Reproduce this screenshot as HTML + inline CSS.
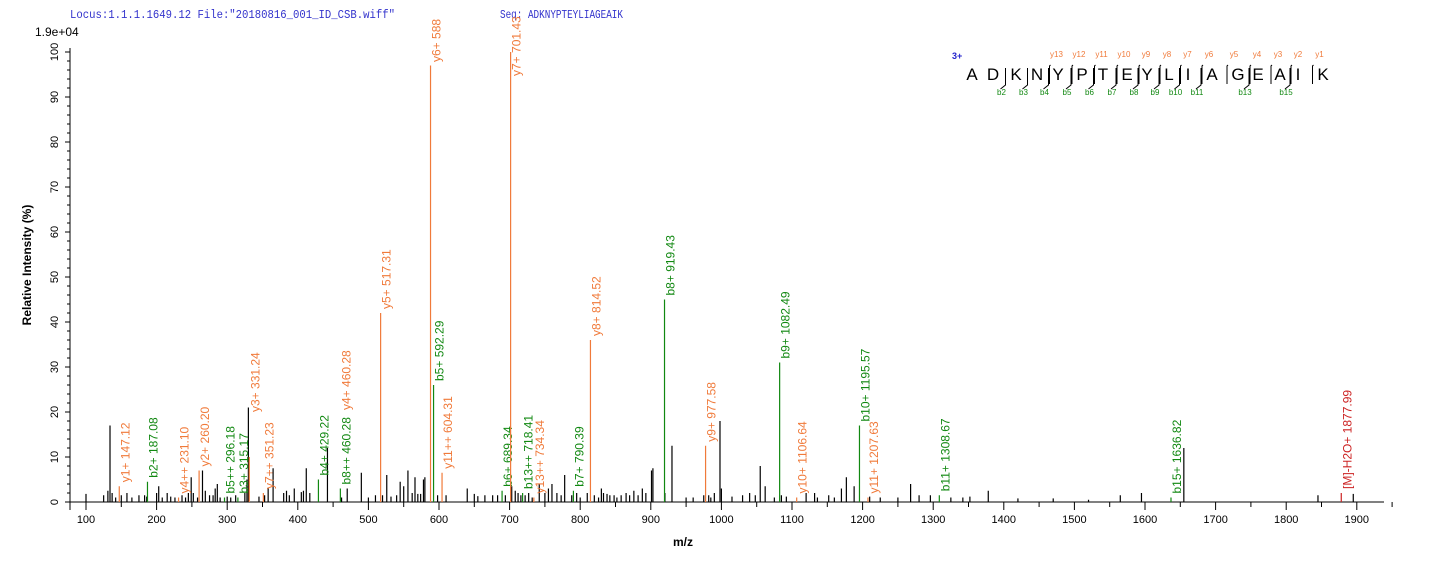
<!DOCTYPE html>
<html><head><meta charset="utf-8"><style>
body{margin:0;background:#fff;}
svg{display:block;font-family:"Liberation Sans",Arial,sans-serif;}
</style></head><body>
<svg id="s" width="1436" height="562" xmlns="http://www.w3.org/2000/svg">
<rect width="1436" height="562" fill="#fff"/>
<text x="70" y="18" font-family="Liberation Mono,monospace" font-size="12" textLength="325" lengthAdjust="spacingAndGlyphs" fill="#3333cc">Locus:1.1.1.1649.12 File:"20180816_001_ID_CSB.wiff"</text>
<text x="500" y="18" font-family="Liberation Mono,monospace" font-size="12" textLength="123" lengthAdjust="spacingAndGlyphs" fill="#3333cc">Seq: ADKNYPTEYLIAGEAIK</text>
<text x="35" y="36" font-size="12">1.9e+04</text>
<text transform="translate(31,265) rotate(-90)" font-size="12" font-weight="bold" text-anchor="middle">Relative   Intensity (%)</text>
<text x="683" y="546" font-size="12" font-weight="bold" text-anchor="middle">m/z</text>
<g id="ax" stroke="#000" stroke-width="1"></g>
<g id="pk"></g>
<g id="seq" font-size="17"></g>
</svg>
<script>
var NS="http://www.w3.org/2000/svg",s=document.getElementById('s');
function el(t,a,p,txt){var e=document.createElementNS(NS,t);for(var k in a)e.setAttribute(k,a[k]);if(txt!==undefined)e.textContent=txt;(p||s).appendChild(e);return e;}
var ax=document.getElementById('ax'),pk=document.getElementById('pk'),sq=document.getElementById('seq');
function X(m){return 86+(m-100)*0.706;}
function Y(h){return 502-h*4.5;}
el('line',{x1:70,y1:502,x2:1384,y2:502},ax);
el('line',{x1:70,y1:48,x2:70,y2:510},ax);
for(var v=0;v<=100;v+=2){var y=Y(v);el('line',{x1:v%10==0?65:67,y1:y,x2:70,y2:y},ax);}
for(var v=0;v<=100;v+=10){el('text',{transform:'translate(58,'+Y(v)+') rotate(-90)','font-size':11,'text-anchor':'middle',stroke:'none'},s,String(v));}
for(var m=100;m<=1950;m+=50){var x=X(m);el('line',{x1:x,y1:502,x2:x,y2:m%100==0?510:507},ax);}
for(var m=100;m<=1900;m+=100){el('text',{x:X(m),y:523,'font-size':11,'text-anchor':'middle'},s,String(m));}
var B=[[100,1.8],[125,1.5],[131,2.5],[134,17],[137,2],[142,1],[150,1.5],[158,2],[165,1],[175,1.5],[183,1.5],[186,1.2],[200,2],[203,3.5],[208,1],[215,2],[220,1.2],[226,1],[236,1.5],[241,1],[245,2],[249,5.5],[252,2],[258,1],[265,7],[269,2.5],[275,1.5],[280,1.5],[283,3],[286,4],[290,1],[300,1.2],[305,1],[312,1.5],[325,2],[328,5],[330,21],[345,1.2],[353,1.5],[358,3],[365,7.5],[380,2],[384,2.5],[388,1.5],[395,3],[405,2.2],[408,2.5],[412,7.5],[417,2],[442,12],[462,1],[470,3],[490,6.5],[500,1],[510,1.5],[520,1.5],[526,6],[532,1.2],[540,1.5],[545,4.5],[550,3.5],[556,7],[562,2],[566,5.5],[570,1.8],[574,1.8],[578,5],[580,5.5],[598,1.5],[610,1.5],[640,3],[650,1.8],[655,1.3],[665,1.5],[676,1.5],[683,1.5],[694,1.5],[703,3.5],[708,2.5],[712,2],[716,1.5],[722,1.5],[727,2],[732,1],[742,4],[750,2],[755,3],[760,4],[767,2],[773,1.5],[778,6],[788,1.5],[795,2],[800,1],[810,2],[820,1.5],[826,1],[830,3],[833,2],[838,1.8],[842,1.5],[848,1.5],[852,1],[858,1.5],[865,2],[870,1.5],[876,2.5],[882,1.5],[888,3],[893,2],[901,7],[903,7.5],[920,2],[930,12.5],[950,1],[960,1],[975,1.5],[982,1.5],[985,1],[990,2],[998,18],[1000,3],[1015,1.2],[1030,1.5],[1040,2],[1048,1.5],[1055,8],[1062,3.5],[1075,1],[1085,1.5],[1092,1.2],[1120,2],[1132,2],[1136,1],[1152,1.5],[1160,1],[1170,3],[1177,5.5],[1188,3.5],[1210,1.2],[1225,1],[1250,1],[1268,4],[1280,1.5],[1296,1.5],[1325,1],[1342,1],[1378,2.5],[1352,1.2],[1420,0.8],[1470,0.8],[1520,0.5],[1565,1.5],[1595,2],[1655,12],[1845,1.5],[1895,1.8]];
B.forEach(function(p){var x=X(p[0]);el('line',{x1:x,y1:502,x2:x,y2:Y(p[1]),stroke:'#000','stroke-width':1.2},pk);});
var O='#f07a3a',G='#118811',R='#cc2222';
var L=[[147.12,3.5,O,'y1+ 147.12'],[187.08,4.5,G,'b2+ 187.08'],[231.10,1,O,'y4++ 231.10'],[260.20,7,O,'y2+ 260.20'],[296.18,1,G,'b5++ 296.18'],[315.17,1,G,'b3+ 315.17'],[331.24,10,O,'y3+ 331.24',412],[351.23,2,O,'y7++ 351.23'],[429.22,5,G,'b4+ 429.22'],[460.28,3,G,'b8++ 460.28'],[460.5,0,O,'y4+ 460.28',410],[517.31,42,O,'y5+ 517.31'],[588,97,O,'y6+ 588',62],[592.29,26,G,'b5+ 592.29'],[604.31,6.5,O,'y11++ 604.31'],[689.34,2.5,G,'b6+ 689.34'],[701.43,100,O,'y7+ 701.43',76],[718.41,2,G,'b13++ 718.41'],[734.34,1,O,'y13++ 734.34'],[790.39,2.5,G,'b7+ 790.39'],[814.52,36,O,'y8+ 814.52'],[919.43,45,G,'b8+ 919.43'],[977.58,12.5,O,'y9+ 977.58'],[1082.49,31,G,'b9+ 1082.49'],[1106.64,1,O,'y10+ 1106.64'],[1195.57,17,G,'b10+ 1195.57'],[1207.63,1,O,'y11+ 1207.63'],[1308.67,1.5,G,'b11+ 1308.67'],[1636.82,1,G,'b15+ 1636.82'],[1877.99,2,R,'[M]-H2O+ 1877.99']];
L.forEach(function(p){var x=X(p[0]);if(p[1]>0)el('line',{x1:x,y1:502,x2:x,y2:Y(p[1]),stroke:p[2],'stroke-width':1.2},pk);var b=p[4]||(Y(p[1])-4);el('text',{transform:'translate('+(x+10)+','+b+') rotate(-90)','font-size':12,fill:p[2]},pk,p[3]);});
var letters='ADKNYPTEYLIAGEAIK'.split(''),lx=[972,993,1016,1037,1058,1082,1103,1127,1147,1169,1188,1212,1238,1258,1280,1298,1323];
el('text',{x:952,y:59,'font-size':9,'font-weight':'bold',fill:'#2222cc'},sq,'3+');
letters.forEach(function(c,i){el('text',{x:lx[i],y:80,'text-anchor':'middle'},sq,c);});
var yl=['y13','y12','y11','y10','y9','y8','y7','y6','y5','y4','y3','y2','y1'];
for(var i=0;i<13;i++){var k=i+4;var bx=(lx[k-1]+lx[k])/2+2;el('text',{x:bx+7,y:57,'font-size':8,fill:O,'text-anchor':'middle'},sq,yl[i]);el('path',{d:'M'+(bx+1)+' 65 L'+bx+' 66 L'+bx+' 84',stroke:'#000',fill:'none','stroke-width':1},sq);}
var bb=[[2,'b2'],[3,'b3'],[4,'b4'],[5,'b5'],[6,'b6'],[7,'b7'],[8,'b8'],[9,'b9'],[10,'b10'],[11,'b11'],[13,'b13'],[15,'b15']];
bb.forEach(function(p){var bx=(lx[p[0]-1]+lx[p[0]])/2+1;el('path',{d:'M'+bx+' 68 L'+bx+' 85 L'+(bx-5)+' 89',stroke:'#000',fill:'none','stroke-width':1},sq);el('text',{x:bx-4,y:95,'font-size':8,fill:G,'text-anchor':'middle'},sq,p[1]);});
</script>
</body></html>
